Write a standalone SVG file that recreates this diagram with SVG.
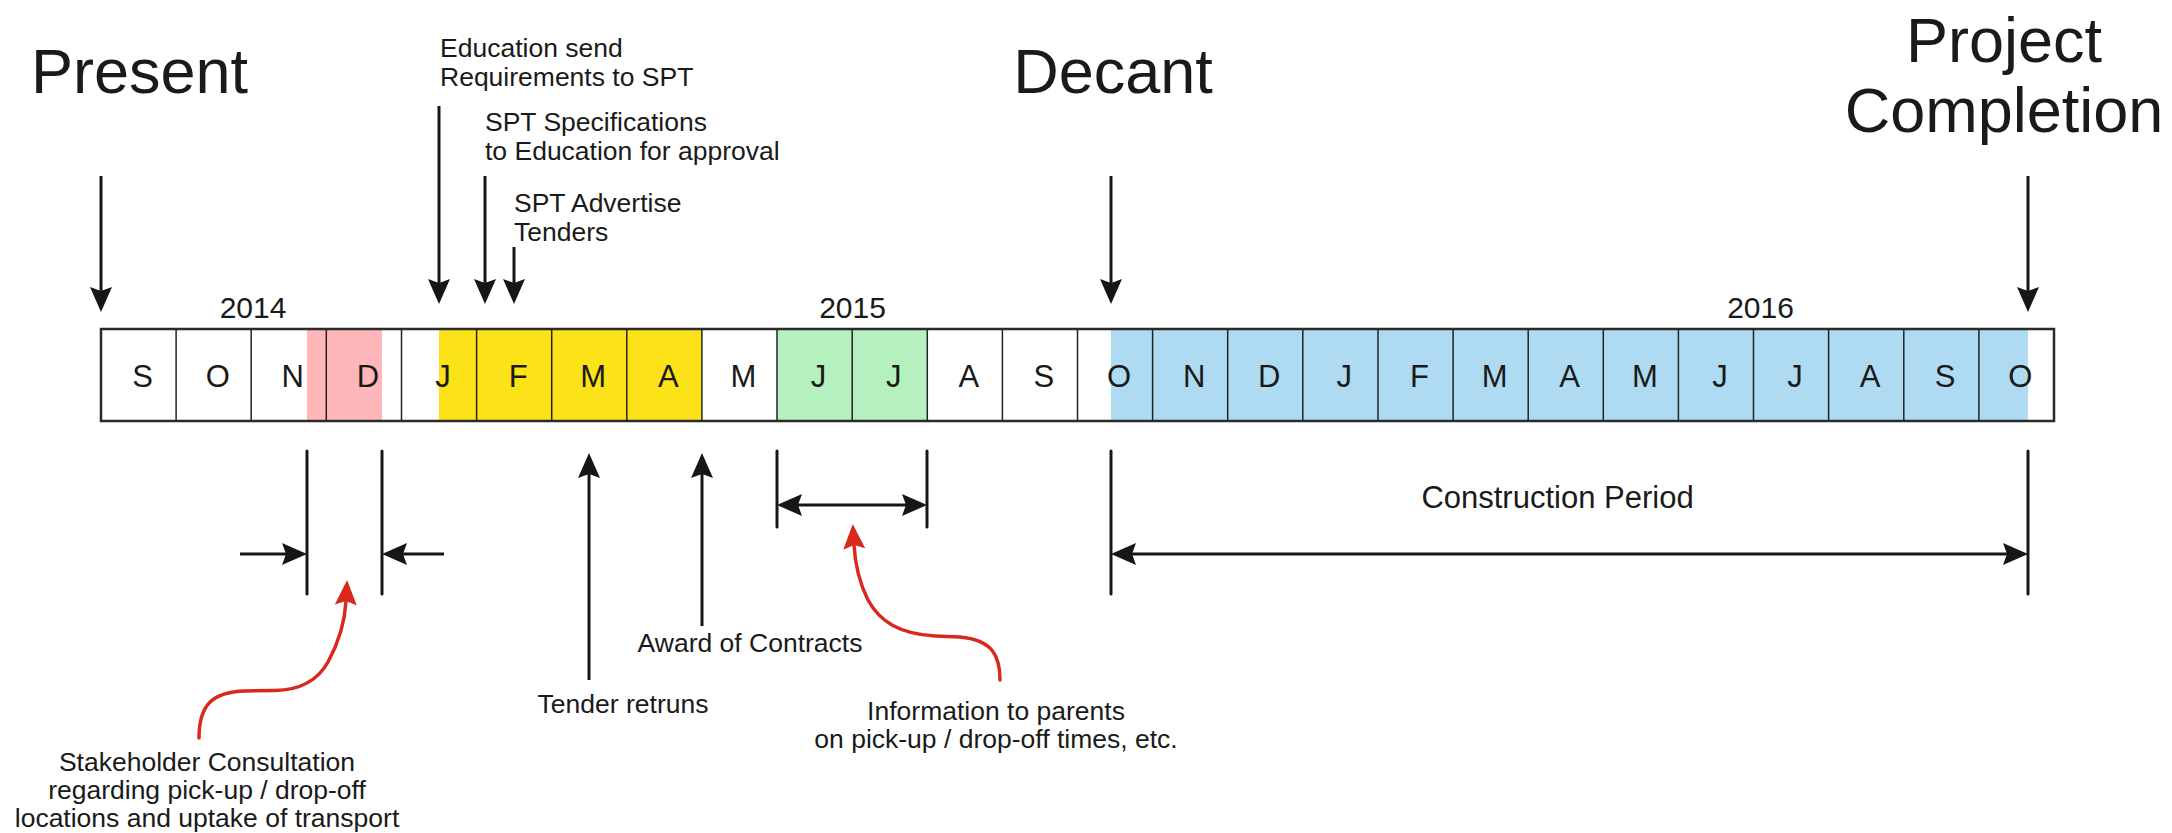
<svg xmlns="http://www.w3.org/2000/svg" width="2172" height="833" viewBox="0 0 2172 833">
  <style>
    text { font-family: "Liberation Sans", Arial, sans-serif; fill: #1a1a1a; }
    .big { font-size: 63px; }
    .note { font-size: 26.5px; }
    .month { font-size: 31px; text-anchor: middle; }
    .year { font-size: 30px; text-anchor: middle; }
    .mid { text-anchor: middle; }
    .cell { stroke: #222; stroke-width: 1.5; }
    .ln { fill: none; stroke: #161616; stroke-width: 3; }
    .tick { fill: none; stroke: #161616; stroke-width: 3; stroke-linecap: round; }
    .red { fill: none; stroke: #d8291c; stroke-width: 3.5; stroke-linecap: round; }
  </style>
  <defs>
    <marker id="ah" markerUnits="userSpaceOnUse" markerWidth="26" markerHeight="22" refX="4" refY="11" orient="auto-start-reverse" overflow="visible">
      <path d="M0,0 L25,11 L0,22 L4,11 Z" fill="#161616"/>
    </marker>
    <marker id="ahr" markerUnits="userSpaceOnUse" markerWidth="26" markerHeight="22" refX="4" refY="11" orient="auto" overflow="visible">
      <path d="M0,0 L25,11 L0,22 L4,11 Z" fill="#d8291c"/>
    </marker>
  </defs>

  <rect width="2172" height="833" fill="#ffffff"/>

  <!-- month bar -->
  <g id="timeline">
    <rect x="101" y="329" width="1953" height="92" fill="#ffffff"/>
    <rect x="307" y="329" width="75" height="92" fill="#ffb7ba"/>
    <rect x="439" y="329" width="263" height="92" fill="#fbe219"/>
    <rect x="777" y="329" width="150" height="92" fill="#b5f1bf"/>
    <rect x="1111" y="329" width="917" height="92" fill="#aedbf1"/>
    <g class="cell">
      <line x1="176.1" y1="329" x2="176.1" y2="421"/>
      <line x1="251.2" y1="329" x2="251.2" y2="421"/>
      <line x1="326.3" y1="329" x2="326.3" y2="421"/>
      <line x1="401.5" y1="329" x2="401.5" y2="421"/>
      <line x1="476.6" y1="329" x2="476.6" y2="421"/>
      <line x1="551.7" y1="329" x2="551.7" y2="421"/>
      <line x1="626.8" y1="329" x2="626.8" y2="421"/>
      <line x1="701.9" y1="329" x2="701.9" y2="421"/>
      <line x1="777.0" y1="329" x2="777.0" y2="421"/>
      <line x1="852.2" y1="329" x2="852.2" y2="421"/>
      <line x1="927.3" y1="329" x2="927.3" y2="421"/>
      <line x1="1002.4" y1="329" x2="1002.4" y2="421"/>
      <line x1="1077.5" y1="329" x2="1077.5" y2="421"/>
      <line x1="1152.6" y1="329" x2="1152.6" y2="421"/>
      <line x1="1227.7" y1="329" x2="1227.7" y2="421"/>
      <line x1="1302.8" y1="329" x2="1302.8" y2="421"/>
      <line x1="1378.0" y1="329" x2="1378.0" y2="421"/>
      <line x1="1453.1" y1="329" x2="1453.1" y2="421"/>
      <line x1="1528.2" y1="329" x2="1528.2" y2="421"/>
      <line x1="1603.3" y1="329" x2="1603.3" y2="421"/>
      <line x1="1678.4" y1="329" x2="1678.4" y2="421"/>
      <line x1="1753.5" y1="329" x2="1753.5" y2="421"/>
      <line x1="1828.6" y1="329" x2="1828.6" y2="421"/>
      <line x1="1903.8" y1="329" x2="1903.8" y2="421"/>
      <line x1="1978.9" y1="329" x2="1978.9" y2="421"/>
    </g>
    <rect x="101" y="329" width="1953" height="92" fill="none" stroke="#2a2a2a" stroke-width="2.5"/>
    <g class="month">
      <text x="142.6" y="387">S</text>
      <text x="217.7" y="387">O</text>
      <text x="292.8" y="387">N</text>
      <text x="367.9" y="387">D</text>
      <text x="443.0" y="387">J</text>
      <text x="518.1" y="387">F</text>
      <text x="593.2" y="387">M</text>
      <text x="668.3" y="387">A</text>
      <text x="743.5" y="387">M</text>
      <text x="818.6" y="387">J</text>
      <text x="893.7" y="387">J</text>
      <text x="968.8" y="387">A</text>
      <text x="1043.9" y="387">S</text>
      <text x="1119.0" y="387">O</text>
      <text x="1194.1" y="387">N</text>
      <text x="1269.2" y="387">D</text>
      <text x="1344.3" y="387">J</text>
      <text x="1419.5" y="387">F</text>
      <text x="1494.6" y="387">M</text>
      <text x="1569.7" y="387">A</text>
      <text x="1644.8" y="387">M</text>
      <text x="1719.9" y="387">J</text>
      <text x="1795.0" y="387">J</text>
      <text x="1870.1" y="387">A</text>
      <text x="1945.2" y="387">S</text>
      <text x="2020.3" y="387">O</text>
    </g>
    <text class="year" x="253" y="318">2014</text>
    <text class="year" x="852.5" y="318">2015</text>
    <text class="year" x="1760.5" y="318">2016</text>
  </g>

  <!-- milestone headings -->
  <g id="present"><text class="big" x="31" y="93">Present</text></g>
  <g id="decant"><text class="big mid" x="1113" y="93">Decant</text></g>
  <g id="completion">
    <text class="big mid" x="2004" y="62">Project</text>
    <text class="big mid" x="2004" y="132">Completion</text>
  </g>

  <!-- annotations -->
  <g id="edu-requirements">
    <text class="note" x="440" y="57">Education send</text>
    <text class="note" x="440" y="86">Requirements to SPT</text>
  </g>
  <g id="spt-specifications">
    <text class="note" x="485" y="131">SPT Specifications</text>
    <text class="note" x="485" y="160">to Education for approval</text>
  </g>
  <g id="spt-advertise">
    <text class="note" x="514" y="212">SPT Advertise</text>
    <text class="note" x="514" y="241">Tenders</text>
  </g>
  <g id="tender-returns"><text class="note mid" x="623" y="713">Tender retruns</text></g>
  <g id="award"><text class="note mid" x="750" y="652">Award of Contracts</text></g>
  <g id="parents-info">
    <text class="note mid" x="996" y="720">Information to parents</text>
    <text class="note mid" x="996" y="748">on pick-up / drop-off times, etc.</text>
  </g>
  <g id="stakeholder">
    <text class="note mid" x="207" y="771">Stakeholder Consultation</text>
    <text class="note mid" x="207" y="799">regarding pick-up / drop-off</text>
    <text class="note mid" x="207" y="827">locations and uptake of transport</text>
  </g>
  <g id="construction"><text class="mid" style="font-size:31px" x="1557.5" y="508">Construction Period</text></g>

  <!-- connectors -->
  <g id="connectors">
    <!-- downward milestone arrows -->
    <path class="ln" d="M101,176 L101,291" marker-end="url(#ah)"/>
    <path class="ln" d="M439,106 L439,283" marker-end="url(#ah)"/>
    <path class="ln" d="M485,176 L485,283" marker-end="url(#ah)"/>
    <path class="ln" d="M514,247 L514,283" marker-end="url(#ah)"/>
    <path class="ln" d="M1111,176 L1111,283" marker-end="url(#ah)"/>
    <path class="ln" d="M2028,176 L2028,291" marker-end="url(#ah)"/>

    <!-- upward arrows -->
    <path class="ln" d="M589,680 L589,474" marker-end="url(#ah)"/>
    <path class="ln" d="M702,626 L702,474" marker-end="url(#ah)"/>

    <!-- consultation window -->
    <line class="tick" x1="307" y1="451" x2="307" y2="594"/>
    <line class="tick" x1="382" y1="451" x2="382" y2="594"/>
    <path class="ln" d="M240,554 L286,554" marker-end="url(#ah)"/>
    <path class="ln" d="M444,554 L403,554" marker-end="url(#ah)"/>

    <!-- parents information window -->
    <line class="tick" x1="777" y1="451" x2="777" y2="527"/>
    <line class="tick" x1="927" y1="451" x2="927" y2="527"/>
    <path class="ln" d="M798,505 L906,505" marker-start="url(#ah)" marker-end="url(#ah)"/>

    <!-- construction period -->
    <line class="tick" x1="1111" y1="451" x2="1111" y2="594"/>
    <line class="tick" x1="2028" y1="451" x2="2028" y2="594"/>
    <path class="ln" d="M1132,554 L2007,554" marker-start="url(#ah)" marker-end="url(#ah)"/>

    <!-- red callouts -->
    <path class="red" d="M199,738 C199,705 212,692 245,691 L275,690.5 C300,690 318,680 328,662 C340,640 345,620 346,601" marker-end="url(#ahr)"/>
    <path class="red" d="M1000,680 C1000,655 992,640 960,637 L935,636 C900,634 880,622 868,600 C858,580 855,562 854,545" marker-end="url(#ahr)"/>
  </g>
</svg>
